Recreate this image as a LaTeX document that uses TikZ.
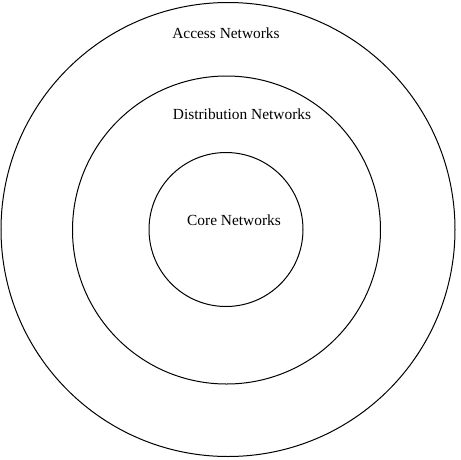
\documentclass[tikz,border=0pt]{standalone}
\usepackage{fontspec}
\setmainfont{Liberation Serif}
\begin{document}
\begin{tikzpicture}[x=1pt,y=-1pt,
  ring/.style={draw=black,line width=1pt,circle,inner sep=0pt},
  lbl/.style={font=\fontsize{15.4}{18}\selectfont,inner sep=0pt}]
\useasboundingbox (0,0) rectangle (461,459);
\node[ring,minimum size=454pt] (access) at (228,229.5) {};
\node[ring,minimum size=308pt] (distribution) at (226.5,230) {};
\node[ring,minimum size=154pt] (core) at (226,229.5) {};
\node[lbl] (accesslbl) at (226,33) {Access Networks};
\node[lbl] (distlbl) at (242,114) {Distribution Networks};
\node[lbl] (corelbl) at (234,220) {Core Networks};
\end{tikzpicture}
\end{document}
